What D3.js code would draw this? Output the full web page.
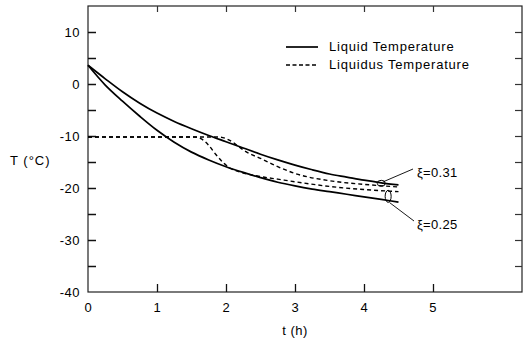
<!DOCTYPE html>
<html>
<head>
<meta charset="utf-8">
<script src="https://cdn.jsdelivr.net/npm/d3@7"></script>
<style>
  body { margin: 0; background: #fff; }
  svg { display: block; font-family: "Liberation Sans", Arial, sans-serif; }
</style>
</head>
<body>
<svg id="chart"></svg>
<script>
// values (t in hours, T in degC)
var liqHiT = [0, 0.25, 0.5, 0.75, 1.0, 1.25, 1.5, 1.75, 2.0, 2.25, 2.5, 2.75, 3.0, 3.25, 3.5, 3.75, 4.0, 4.25, 4.5];
var liqHiV = [3.6, 1.0, -1.5, -3.7, -5.6, -7.2, -8.6, -9.9, -11.1, -12.3, -13.5, -14.6, -15.6, -16.5, -17.3, -17.9, -18.5, -19.0, -19.4];

var liqLoT = [0, 0.25, 0.5, 0.75, 1.0, 1.25, 1.5, 1.75, 2.0, 2.25, 2.5, 2.75, 3.0, 3.25, 3.5, 3.75, 4.0, 4.25, 4.5];
var liqLoV = [3.6, -0.2, -3.3, -6.2, -8.9, -11.2, -13.1, -14.6, -15.9, -17.0, -18.0, -18.9, -19.6, -20.2, -20.7, -21.2, -21.7, -22.2, -22.7];

var ldsHiT = [0, 1.0, 1.9, 2.0, 2.1, 2.2, 2.3, 2.5, 2.75, 3.0, 3.5, 4.0, 4.5];
var ldsHiV = [-10.2, -10.2, -10.2, -10.5, -11.2, -12.2, -13.1, -14.3, -15.9, -17.2, -18.6, -19.3, -19.8];

var ldsLoT = [0, 1.0, 1.55, 1.65, 1.75, 1.85, 1.95, 2.05, 2.2, 2.5, 2.75, 3.0, 3.5, 4.0, 4.5];
var ldsLoV = [-10.2, -10.2, -10.2, -10.6, -11.8, -13.5, -15.0, -16.1, -16.9, -17.8, -18.3, -18.8, -19.7, -20.3, -20.7];

var xTicks = [0, 1, 2, 3, 4, 5];
var yTicks = [10, 0, -10, -20, -30, -40];
var yMinor = [10, 5, 0, -5, -10, -15, -20, -25, -30, -35];

var legendKeys = ["Liquid Temperature", "Liquidus Temperature"];
var xiLabels = ["\u03be=0.31", "\u03be=0.25"];

var w = 526, h = 343;
var svg = d3.select("#chart").attr("width", w).attr("height", h);

var x = d3.scaleLinear().domain([0, 6.29]).range([88, 522]);
var y = d3.scaleLinear().domain([-40, 15]).range([292, 6]);

// frame
svg.append("rect")
  .attr("x", x(0)).attr("y", y(15))
  .attr("width", x(6.29) - x(0)).attr("height", y(-40) - y(15))
  .attr("fill", "none").attr("stroke", "#222").attr("stroke-width", 1.2);

// left axis, ticks inward
var leftAx = svg.append("g").attr("transform", "translate(" + x(0) + ",0)")
  .call(d3.axisRight(y).tickValues(yMinor).tickSize(8).tickFormat(""));
leftAx.select(".domain").remove();
leftAx.selectAll("line").attr("stroke", "#111").attr("stroke-width", 1.5);

svg.selectAll(".ylab").data(yTicks).enter()
  .append("text")
    .attr("x", 80)
    .attr("y", d => y(d) + 4.5)
    .attr("text-anchor", "end")
    .attr("font-size", "13px")
    .attr("letter-spacing", "0.5px")
    .text(d => d);

// right axis
var rightAx = svg.append("g").attr("transform", "translate(" + x(6.29) + ",0)")
  .call(d3.axisLeft(y).tickValues(yMinor).tickSize(7).tickFormat(""));
rightAx.select(".domain").remove();
rightAx.selectAll("line").attr("stroke", "#333").attr("stroke-width", 1.2);

// bottom axis
var bottomAx = svg.append("g").attr("transform", "translate(0," + y(-40) + ")")
  .call(d3.axisTop(x).tickValues(xTicks.slice(1)).tickSize(8).tickFormat(""));
bottomAx.select(".domain").remove();
bottomAx.selectAll("line").attr("stroke", "#111").attr("stroke-width", 1.3);

svg.selectAll(".xlab").data(xTicks).enter()
  .append("text")
    .attr("x", d => x(d))
    .attr("y", 312)
    .attr("text-anchor", "middle")
    .attr("font-size", "13px")
    .text(d => d);

// top axis
var topAx = svg.append("g").attr("transform", "translate(0," + y(15) + ")")
  .call(d3.axisBottom(x).tickValues(xTicks.slice(1)).tickSize(6).tickFormat(""));
topAx.select(".domain").remove();
topAx.selectAll("line").attr("stroke", "#333").attr("stroke-width", 1.2);

// axis titles
svg.append("text").attr("x", 295).attr("y", 335)
  .attr("text-anchor", "middle").attr("font-size", "13px").attr("letter-spacing", "0.5px")
  .text("t (h)");
svg.append("text").attr("x", 10).attr("y", 165)
  .attr("font-size", "13px").attr("letter-spacing", "1px")
  .text("T (\u00b0C)");

// curves
var smooth = d3.line()
  .x(d => x(d[0]))
  .y(d => y(d[1]))
  .curve(d3.curveCatmullRom);
var line = d3.line()
  .x(d => x(d[0]))
  .y(d => y(d[1]))
  .curve(d3.curveMonotoneX);

function pairs(ts, vs) { return ts.map((t, i) => [t, vs[i]]); }

svg.append("path").datum(pairs(liqHiT, liqHiV))
  .attr("d", smooth).attr("fill", "none").attr("stroke", "#000").attr("stroke-width", 1.7);
svg.append("path").datum(pairs(liqLoT, liqLoV))
  .attr("d", smooth).attr("fill", "none").attr("stroke", "#000").attr("stroke-width", 1.7);
svg.append("path").datum(pairs(ldsHiT, ldsHiV))
  .attr("d", line).attr("fill", "none").attr("stroke", "#000").attr("stroke-width", 1.4)
  .attr("stroke-dasharray", "4,3");
svg.append("path").datum(pairs(ldsLoT, ldsLoV))
  .attr("d", line).attr("fill", "none").attr("stroke", "#000").attr("stroke-width", 1.4)
  .attr("stroke-dasharray", "4,3");

// markers on the xi curves
svg.append("ellipse")
  .attr("cx", x(4.25)).attr("cy", y(-19.1)).attr("rx", 4).attr("ry", 3)
  .attr("fill", "none").attr("stroke", "#000").attr("stroke-width", 1);
svg.append("ellipse")
  .attr("cx", x(4.35)).attr("cy", y(-21.6)).attr("rx", 3).attr("ry", 6)
  .attr("fill", "none").attr("stroke", "#000").attr("stroke-width", 1);

// leader lines + labels
svg.append("line")
  .attr("x1", x(4.28)).attr("y1", y(-18.8)).attr("x2", 413).attr("y2", 169)
  .attr("stroke", "#000").attr("stroke-width", 0.9);
svg.append("line")
  .attr("x1", x(4.37)).attr("y1", y(-22.8)).attr("x2", 414).attr("y2", 221)
  .attr("stroke", "#000").attr("stroke-width", 0.9);

svg.selectAll(".xi").data(xiLabels).enter()
  .append("text")
    .attr("x", 417)
    .attr("y", (d, i) => i == 0 ? 177 : 229)
    .attr("font-size", "13px")
    .attr("letter-spacing", "0.3px")
    .text(d => d);

// legend
svg.selectAll(".lgline").data(legendKeys).enter()
  .append("line")
    .attr("x1", 286).attr("x2", 318)
    .attr("y1", (d, i) => 47 + i * 18)
    .attr("y2", (d, i) => 47 + i * 18)
    .attr("stroke", "#000")
    .attr("stroke-width", (d, i) => i == 0 ? 1.7 : 1.3)
    .attr("stroke-dasharray", (d, i) => i == 0 ? null : "4,2.5");

svg.selectAll(".lgtext").data(legendKeys).enter()
  .append("text")
    .attr("x", 329)
    .attr("y", (d, i) => 51 + i * 18)
    .attr("font-size", "13px")
    .attr("letter-spacing", "0.8px")
    .text(d => d);
</script>
</body>
</html>
